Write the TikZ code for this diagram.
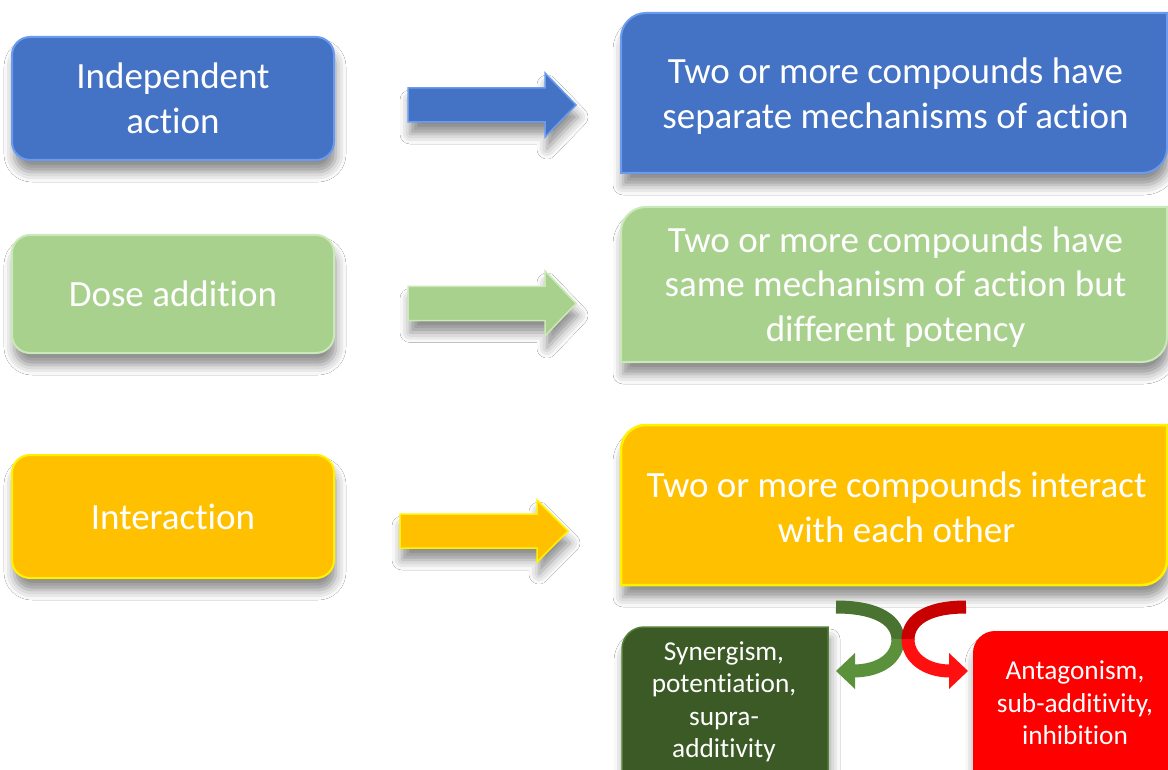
\documentclass[tikz,border=0pt]{standalone}
\usepackage{fontspec}
\setmainfont{Carlito}[RawFeature=-liga]
\usetikzlibrary{shadows.blur}
\definecolor{cblue}{HTML}{4472C4}
\definecolor{cblueedge}{HTML}{6A9BEE}
\definecolor{cgreen}{HTML}{A9D18E}
\definecolor{cgreenedge}{HTML}{CBE8B8}
\definecolor{cyellow}{HTML}{FFC000}
\definecolor{cyellowedge}{HTML}{FFF200}
\definecolor{cdgreen}{HTML}{3B5A25}
\definecolor{cdgreenedge}{HTML}{54803A}
\definecolor{cred}{HTML}{FF0000}
\definecolor{gtop}{HTML}{4A7230}
\definecolor{gbot}{HTML}{5C913C}
\definecolor{rtop}{HTML}{C80000}
\definecolor{rbot}{HTML}{FF1010}
% #1 x1, #2 y1 (top), #3 x2, #4 y2 (bottom), #5 top-left radius, #6 bottom-right radius, #7 style
\newcommand\diagbox[7]{\path[#7] (#1,#4) -- (#1,{#2+#5}) .. controls (#1,{#2+0.448*#5}) and ({#1+0.448*#5},#2) .. ({#1+#5},#2)
  -- (#3,#2) -- (#3,{#4-#6}) .. controls (#3,{#4-0.448*#6}) and ({#3-0.448*#6},#4) .. ({#3-#6},#4) -- cycle;}
\begin{document}
\begin{tikzpicture}[x=1pt,y=-1pt,
  sh/.style={blur shadow={shadow xshift=2pt,shadow yshift=-12pt,shadow blur radius=10pt,shadow opacity=45}},
  lbox/.style={sh,rounded corners=18pt,minimum width=322pt,inner sep=0pt,text=white,align=center,
    font=\fontsize{37}{44.5}\selectfont,line width=2pt},
  rbox/.style={minimum width=547pt,minimum height=160pt,inner sep=0pt,text=white,align=center,
    font=\fontsize{37}{44.5}\selectfont},
  sbox/.style={inner sep=0pt,text=white,align=center,font=\fontsize{27.3}{32.5}\selectfont},
  barrow/.style={sh,line width=1.5pt,line join=miter},
  ribbon/.style={line width=13pt}]
\fill[white] (0,0) rectangle (1168,770);
\useasboundingbox (0,0) rectangle (1168,770);
% right box fills
\diagbox{621}{13}{1167}{173}{25}{25}{sh,fill=cblue,draw=cblueedge,line width=2pt}
\diagbox{621}{207}{1167}{362}{25}{25}{sh,fill=cgreen,draw=cgreenedge,line width=2pt}
\diagbox{621}{425}{1167}{585}{25}{25}{sh,fill=cyellow,draw=cyellowedge,line width=2.5pt}
\diagbox{622}{627}{828}{790}{22}{0}{sh,fill=cdgreen,draw=cdgreenedge,line width=1.5pt}
\diagbox{973}{631}{1190}{790}{22}{0}{sh,fill=cred}
% left boxes
\node[lbox,fill=cblue,draw=cblueedge,minimum height=123pt] (lb) at (173,98.5) {Independent\\action};
\node[lbox,fill=cgreen,draw=cgreenedge,minimum height=118pt] (lg) at (173,294) {Dose addition};
\node[lbox,fill=cyellow,draw=cyellowedge,minimum height=123pt] (ly) at (173,516.5) {Interaction};
% right box texts
\node[rbox] (rb) at (895.5,96) {Two or more compounds have\\separate mechanisms of action};
\node[rbox,minimum height=155pt] (rg) at (895.5,287) {Two or more compounds have\\same mechanism of action but\\different potency};
\node[rbox] (ry) at (896.5,507.5) {Two or more compounds interact\\with each other};
\node[sbox,minimum width=206pt,minimum height=144pt] (sg) at (724,702) {Synergism,\\potentiation,\\supra-\\additivity};
\node[sbox,minimum width=195pt,minimum height=139pt] (sr) at (1075,703) {Antagonism,\\sub-additivity,\\inhibition};
% block arrows
\path[barrow,fill=cblue,draw=cblueedge] (408,88) -- (545,88) -- (545,73) -- (576,105) -- (545,137) -- (545,122) -- (408,122) -- cycle;
\path[barrow,fill=cgreen,draw=cgreenedge] (408,286.5) -- (545,286.5) -- (545,271) -- (576,303.5) -- (545,336) -- (545,320.5) -- (408,320.5) -- cycle;
\path[barrow,fill=cyellow,draw=cyellowedge] (400,514) -- (537,514) -- (537,500) -- (568,531) -- (537,562) -- (537,548) -- (400,548) -- cycle;
% curved arrows
\draw[ribbon,gtop] (836,607) .. controls (880,607) and (898,622) .. (898,640);
\draw[ribbon,gbot] (898,639) .. controls (898,658) and (880,671) .. (853,671);
\fill[gbot] (855,653) -- (836,671) -- (855,689) -- cycle;
\draw[ribbon,rtop] (966,607) .. controls (924,607) and (908,622) .. (908,640);
\draw[ribbon,rbot] (908,639) .. controls (908,658) and (926,671) .. (950,671);
\fill[rbot] (949,653) -- (968,671) -- (949,689) -- cycle;
\end{tikzpicture}
\end{document}
